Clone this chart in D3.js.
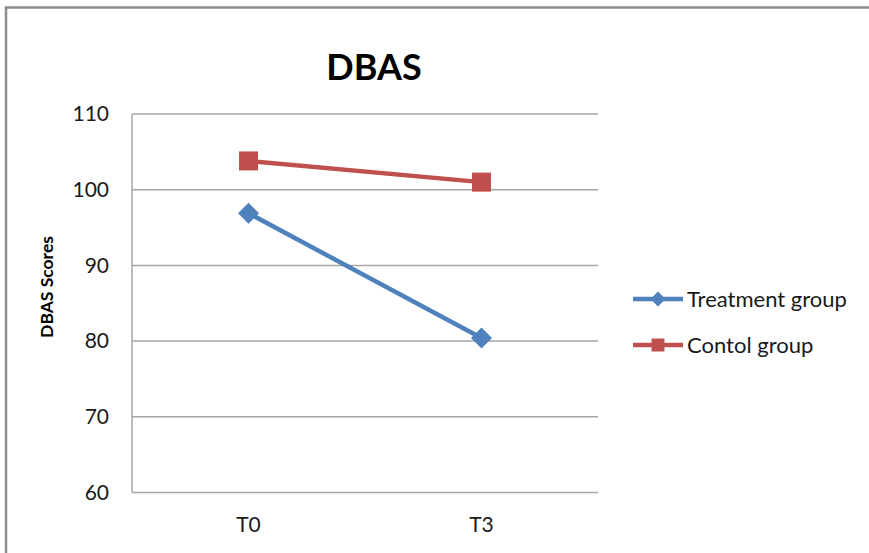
<!DOCTYPE html>
<html>
<head>
<meta charset="utf-8">
<script src="https://cdn.jsdelivr.net/npm/d3@7"></script>
<style>
  html, body { margin: 0; padding: 0; background: #fff; }
  svg { display: block; font-family: Lato, "Open Sans", "Liberation Sans", sans-serif; }
</style>
</head>
<body>
<svg id="chart" width="869" height="553"></svg>
<script>
// Time points and mean DBAS scores per group
const timepoints = ["T0", "T3"];
const treatmentScores = [96.9, 80.4];
const controlScores = [103.8, 101.0];
const yTicks = [60, 70, 80, 90, 100, 110];
const seriesNames = ["Treatment group", "Contol group"];

const series = [
  { name: seriesNames[0], values: treatmentScores, color: "#4F81BD", marker: "diamond" },
  { name: seriesNames[1], values: controlScores, color: "#C0504D", marker: "square" }
];

const svg = d3.select("#chart");
const W = 869, H = 553;
const plot = { left: 132, top: 114, right: 598, bottom: 492.5 };

// Outer frame (top and left edges visible)
svg.append("path")
  .attr("d", `M6,${H} L6,7.5 L${W},7.5`)
  .attr("fill", "none")
  .attr("stroke", "#8c8c8c")
  .attr("stroke-width", 2.5);

const x = d3.scalePoint().domain(timepoints).range([plot.left, plot.right]).padding(0.5);
const y = d3.scaleLinear().domain([60, 110]).range([plot.bottom, plot.top]);

// Horizontal gridlines
svg.append("g")
  .selectAll("line")
  .data(yTicks)
  .join("line")
  .attr("x1", plot.left).attr("x2", plot.right)
  .attr("y1", d => y(d)).attr("y2", d => y(d))
  .attr("stroke", "#a6a6a6").attr("stroke-width", 1.5);

// Vertical axis line
svg.append("line")
  .attr("x1", plot.left).attr("x2", plot.left)
  .attr("y1", plot.top).attr("y2", plot.bottom)
  .attr("stroke", "#a6a6a6").attr("stroke-width", 1.5);

// Y tick labels
svg.append("g")
  .selectAll("text")
  .data(yTicks)
  .join("text")
  .attr("x", 109)
  .attr("y", d => y(d))
  .attr("dy", "0.35em")
  .attr("text-anchor", "end")
  .attr("font-size", 21)
  .attr("fill", "#1a1a1a")
  .text(d => d);

// X tick labels
svg.append("g")
  .selectAll("text")
  .data(timepoints)
  .join("text")
  .attr("x", d => x(d))
  .attr("y", 525)
  .attr("dy", "0.35em")
  .attr("text-anchor", "middle")
  .attr("font-size", 21)
  .attr("fill", "#1a1a1a")
  .text(d => d);

// Title
svg.append("text")
  .attr("x", 374).attr("y", 80)
  .attr("text-anchor", "middle")
  .attr("font-size", 36)
  .attr("font-weight", "bold")
  .attr("fill", "#000")
  .text("DBAS");

// Y axis title
svg.append("text")
  .attr("transform", "translate(53,287) rotate(-90)")
  .attr("text-anchor", "middle")
  .attr("font-size", 17.5)
  .attr("font-weight", "bold")
  .attr("fill", "#000")
  .text("DBAS Scores");

const line = d3.line()
  .x((d, i) => x(timepoints[i]))
  .y(d => y(d));

function drawMarker(g, kind, cx, cy, size, color) {
  if (kind === "square") {
    g.append("rect")
      .attr("x", cx - size / 2).attr("y", cy - size / 2)
      .attr("width", size).attr("height", size)
      .attr("fill", color);
  } else {
    const r = size / 2 + 1;
    g.append("path")
      .attr("d", `M${cx},${cy - r} L${cx + r},${cy} L${cx},${cy + r} L${cx - r},${cy} Z`)
      .attr("fill", color);
  }
}

// Series lines and markers
series.forEach(s => {
  const g = svg.append("g");
  g.append("path")
    .attr("d", line(s.values))
    .attr("fill", "none")
    .attr("stroke", s.color)
    .attr("stroke-width", 4.5);
  s.values.forEach((v, i) => drawMarker(g, s.marker, x(timepoints[i]), y(v), 19, s.color));
});

// Legend
const legendY = [299, 345];
series.forEach((s, i) => {
  const g = svg.append("g");
  g.append("line")
    .attr("x1", 633).attr("x2", 683)
    .attr("y1", legendY[i]).attr("y2", legendY[i])
    .attr("stroke", s.color).attr("stroke-width", 4.5);
  drawMarker(g, s.marker, 658, legendY[i], 13, s.color);
  g.append("text")
    .attr("x", 687).attr("y", legendY[i])
    .attr("dy", "0.35em")
    .attr("font-size", 22)
    .attr("fill", "#1a1a1a")
    .text(s.name);
});
</script>
</body>
</html>
